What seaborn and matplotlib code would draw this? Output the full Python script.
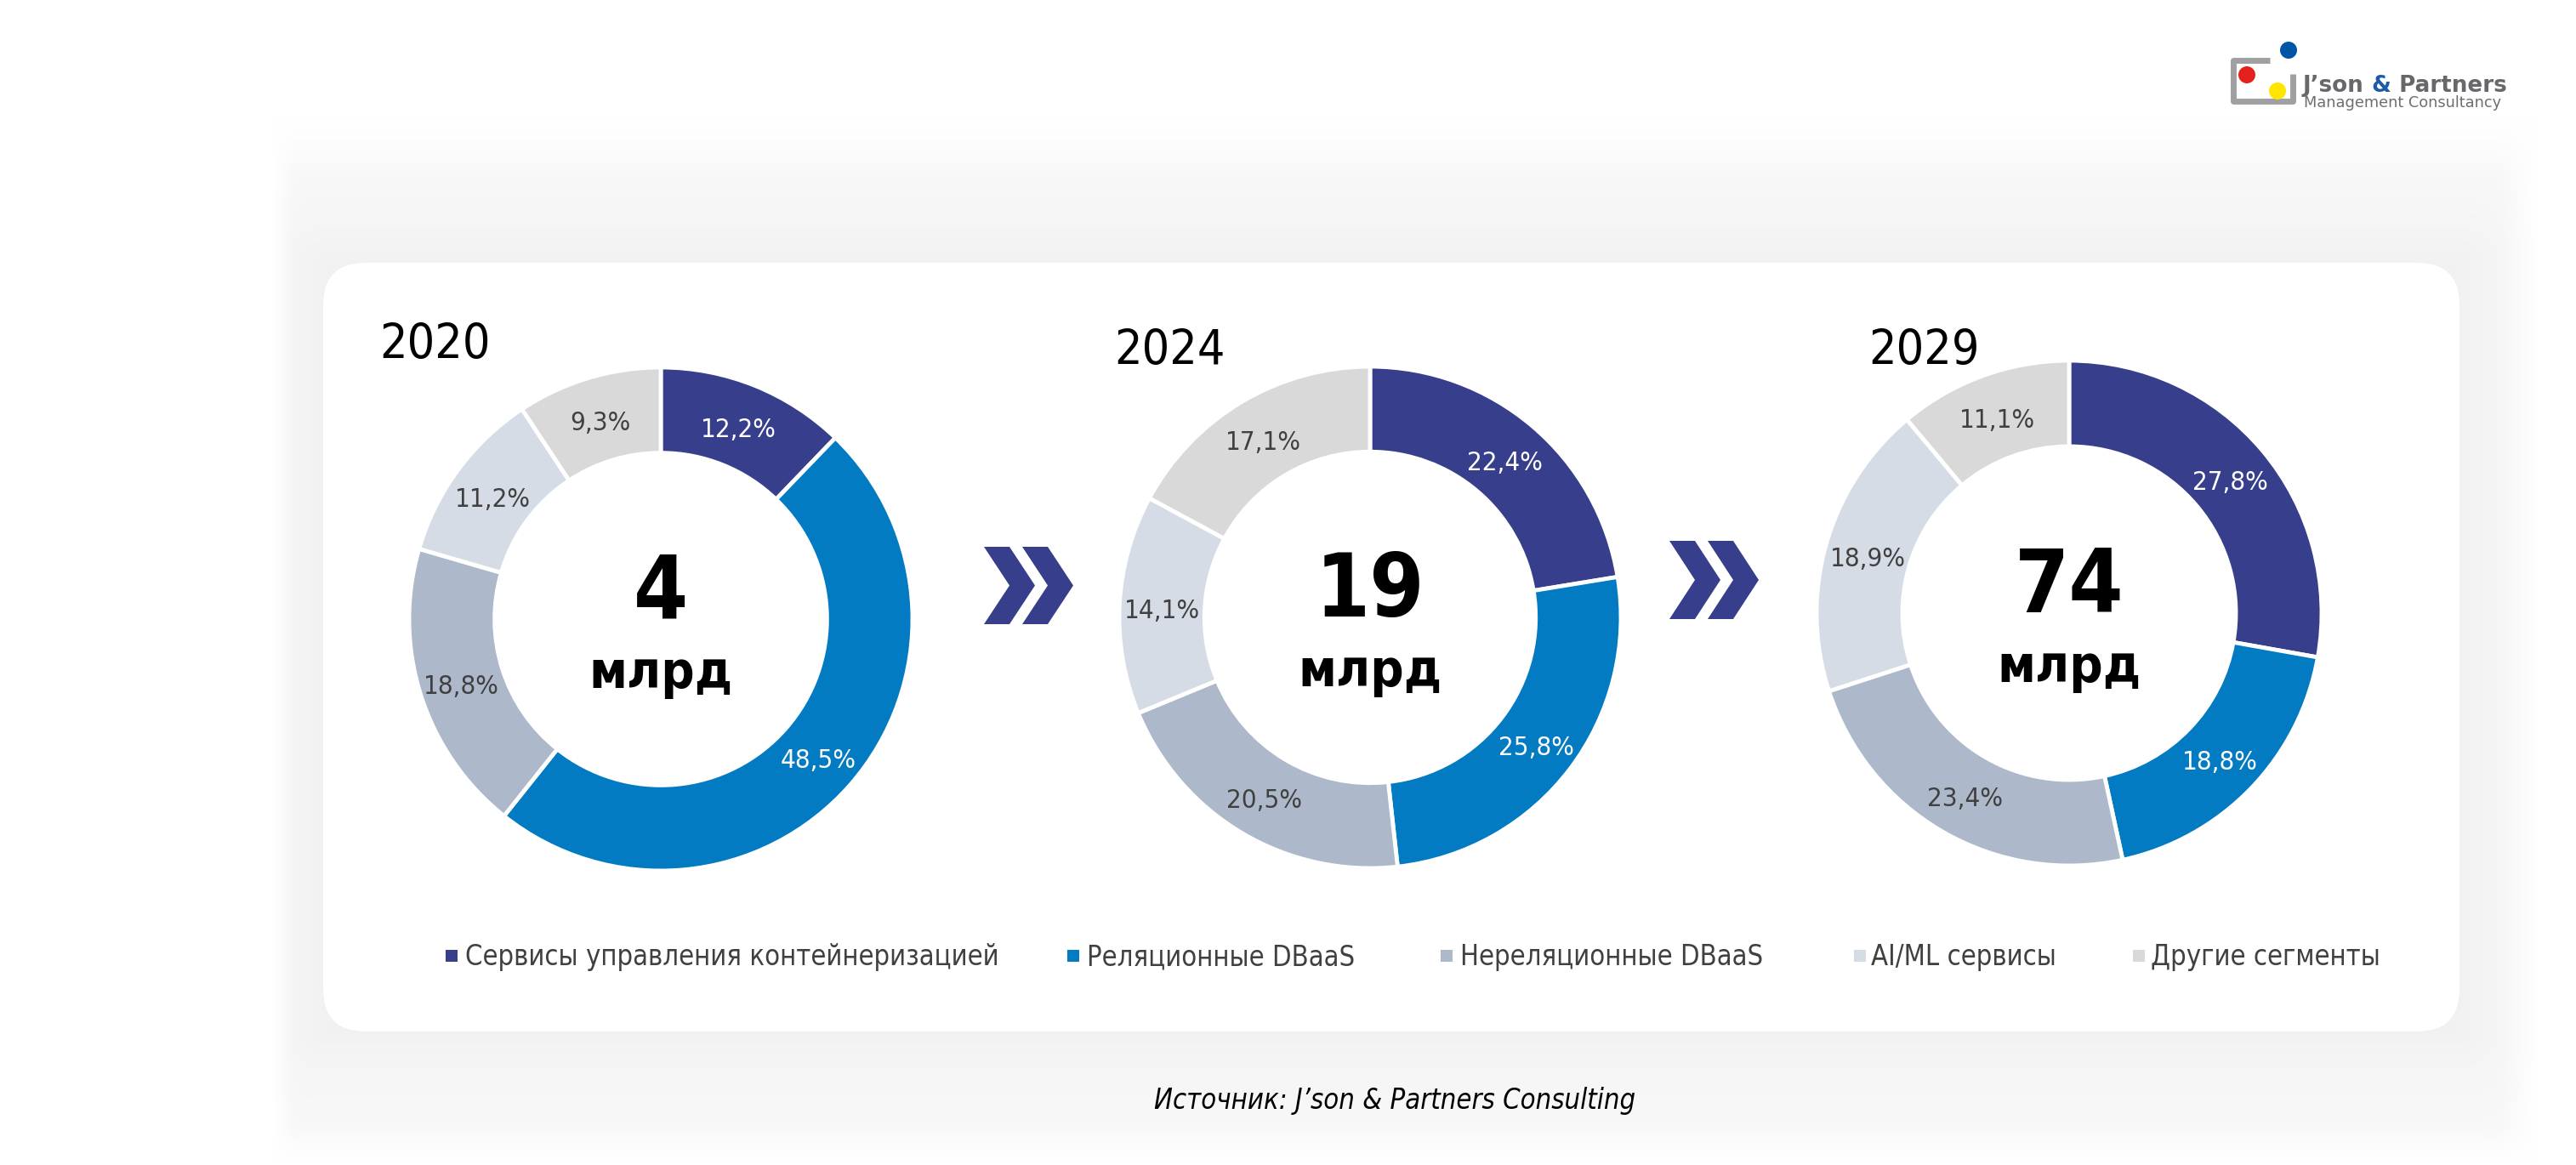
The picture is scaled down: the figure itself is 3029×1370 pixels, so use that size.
import os
import numpy as np
import pandas as pd
import matplotlib
matplotlib.use("Agg")
import matplotlib.pyplot as plt
import seaborn as sns
from matplotlib import font_manager as fm
from matplotlib.patches import FancyBboxPatch, Polygon, Rectangle, Circle
from matplotlib.font_manager import FontProperties

# ---------------- data ----------------
years = ["2020", "2024", "2029"]
totals = ["4", "19", "74"]
unit = "млрд"
segments = ["Сервисы управления контейнеризацией", "Реляционные DBaaS",
            "Нереляционные DBaaS", "AI/ML сервисы", "Другие сегменты"]
share_2020 = [12.2, 48.5, 18.8, 11.2, 9.3]
share_2024 = [22.4, 25.8, 20.5, 14.1, 17.1]
share_2029 = [27.8, 18.8, 23.4, 18.9, 11.1]
source_text = "Источник: J’son & Partners Consulting"
logo_main = ["J’son ", "&", " Partners"]
logo_sub = "Management Consultancy"

seg_colors = ["#373F8C", "#027BC2", "#ADB9CA", "#D6DCE5", "#D9D9D9"]
label_colors = ["white", "white", "#404040", "#404040", "#404040"]

sns.set_theme(style="white")
palette = sns.color_palette(seg_colors)
plt.rcParams["font.family"] = ["DejaVu Sans"]

# ---------------- fonts ----------------
sysfonts = fm.findSystemFonts() + [f.fname for f in fm.fontManager.ttflist]
def find_font(basename):
    for f in sysfonts:
        if os.path.basename(f).lower() == basename.lower():
            return f
    return None

f_reg = find_font("DejaVuSansCondensed.ttf")
f_bold = find_font("DejaVuSansCondensed-Bold.ttf")
f_obl = find_font("DejaVuSansCondensed-Oblique.ttf")

def fp(kind, size):
    if kind == "reg":
        return FontProperties(fname=f_reg, size=size) if f_reg else FontProperties(family="Liberation Sans", size=size)
    if kind == "bold":
        return FontProperties(fname=f_bold, size=size) if f_bold else FontProperties(family="Liberation Sans", weight="bold", size=size)
    if kind == "obl":
        return FontProperties(fname=f_obl, size=size) if f_obl else FontProperties(family="Liberation Sans", style="italic", size=size)

# ---------------- figure ----------------
W, H = 3029, 1370
fig = plt.figure(figsize=(W / 100, H / 100), dpi=100)
fig.patch.set_facecolor("white")
ax = fig.add_axes([0, 0, 1, 1])

def Y(y_img):
    return H - y_img

# soft background shadow panel
xs = np.arange(W)
ys = np.arange(H)
XX, YY = np.meshgrid(xs, ys)
cx0, cx1, cy0, cy1 = 380, 2892, 309, 1213
dx = np.maximum(np.maximum(cx0 - XX, XX - cx1), 0)
dy = np.maximum(np.maximum(cy0 - YY, YY - cy1), 0)
d = np.sqrt(dx ** 2 + dy ** 2)
def ramp(v, a, b):
    return np.clip((v - a) / (b - a), 0, 1)
region = (ramp(XX, 320, 345) * (1 - ramp(XX, 2940, 2985)) *
          ramp(YY, 140, 210) * (1 - ramp(YY, 1325, 1365)))
shade = region * (0.016 + 0.036 * np.exp(-d / 95.0))
img = np.dstack([1 - shade] * 3)
ax.imshow(img, extent=(0, W, 0, H), origin="upper", zorder=0, interpolation="bilinear")

# white card
card = FancyBboxPatch((cx0, Y(cy1)), cx1 - cx0, cy1 - cy0,
                      boxstyle="round,pad=0,rounding_size=50",
                      facecolor="white", edgecolor="none", zorder=1)
ax.add_patch(card)

# ---------------- donuts ----------------
shares = [share_2020, share_2024, share_2029]
centers = [(777, 728), (1611, 726), (2433, 721)]
radii = [296, 295, 297]
year_pos = [(446, 422), (1310, 429), (2197, 429)]

for vals, (cxi, cyi), R, yr, tot, (yx, yy) in zip(shares, centers, radii, years, totals, year_pos):
    labels = [f"{v:.1f}".replace(".", ",") + "%" for v in vals]
    wedges, texts = ax.pie(vals, colors=palette, startangle=90, counterclock=False,
                           radius=R, center=(cxi, Y(cyi)), labels=labels,
                           labeldistance=0.83, frame=True,
                           wedgeprops=dict(width=R * 0.34, edgecolor="white", linewidth=3.5),
                           textprops=dict(fontproperties=fp("reg", 22.5)))
    for w in wedges:
        w.set_zorder(2)
    for t, c in zip(texts, label_colors):
        x, y = t.get_position()
        t.set_position((x, y - 5))
        t.set_ha("center")
        t.set_va("center")
        t.set_color(c)
        t.set_zorder(3)
    ax.text(cxi, Y(cyi - 1), tot, ha="center", va="baseline", color="black",
            fontproperties=fp("bold", 74), zorder=3)
    ax.text(cxi, Y(cyi + 81), unit, ha="center", va="baseline", color="black",
            fontproperties=fp("bold", 44), zorder=3)
    ax.text(yx, Y(yy), yr, ha="left", va="baseline", color="black",
            fontproperties=fp("reg", 41), zorder=3)

# ---------------- chevrons ----------------
def chevron(x0, top, bot):
    mid = (top + bot) / 2
    pts = [(x0, Y(top)), (x0 + 30, Y(top)), (x0 + 60, Y(mid)),
           (x0 + 30, Y(bot)), (x0, Y(bot)), (x0 + 30, Y(mid))]
    ax.add_patch(Polygon(pts, closed=True, facecolor="#373F8C", edgecolor="none", zorder=3))

for x0, top, bot in [(1157, 643, 734), (1202, 643, 734), (1963, 636, 728), (2008, 636, 728)]:
    chevron(x0, top, bot)

# ---------------- legend ----------------
leg_marker_x = [524, 1255, 1694, 2180, 2508]
leg_text_x = [547, 1278, 1717, 2200, 2529]
for name, col, mx, tx in zip(segments, palette, leg_marker_x, leg_text_x):
    ax.add_patch(Rectangle((mx, Y(1131)), 14, 14, facecolor=col, edgecolor="none", zorder=3))
    ax.text(tx, Y(1135), name, ha="left", va="baseline", color="#404040",
            fontproperties=fp("reg", 23.5), zorder=3)

# ---------------- source ----------------
ax.text(1640, Y(1304), source_text, ha="center", va="baseline", color="black",
        fontproperties=fp("obl", 23.5), zorder=3)

# ---------------- logo ----------------
ax.plot([2669, 2625.5, 2625.5, 2695.5, 2695.5], [Y(70.5), Y(70.5), Y(118.5), Y(118.5), Y(87)],
        color="#A0A0A3", lw=5, solid_joinstyle="round", solid_capstyle="butt", zorder=3)
for (px, py, c) in [(2691, 59, "#0055A5"), (2642, 88, "#E3201B"), (2678, 107, "#FFE500")]:
    ax.add_patch(Circle((px, Y(py)), 10, facecolor=c, edgecolor="none", zorder=4))

ax.set_xlim(0, W)
ax.set_ylim(0, H)
ax.set_aspect("auto")
ax.axis("off")

fig.canvas.draw()
renderer = fig.canvas.get_renderer()
x_cur = 2708
for part, col in zip(logo_main, ["#67686B", "#1D5AA8", "#67686B"]):
    t = ax.text(x_cur, Y(108), part, ha="left", va="baseline", color=col,
                fontsize=18.8, fontweight="bold", family="DejaVu Sans", zorder=4)
    bb = t.get_window_extent(renderer=renderer)
    x_cur = x_cur + bb.width
ax.text(2709, Y(126), logo_sub, ha="left", va="baseline", color="#6E6E6E",
        fontsize=12.8, family="DejaVu Sans", zorder=4)

fig.savefig("out.png", dpi=100, facecolor="white")
